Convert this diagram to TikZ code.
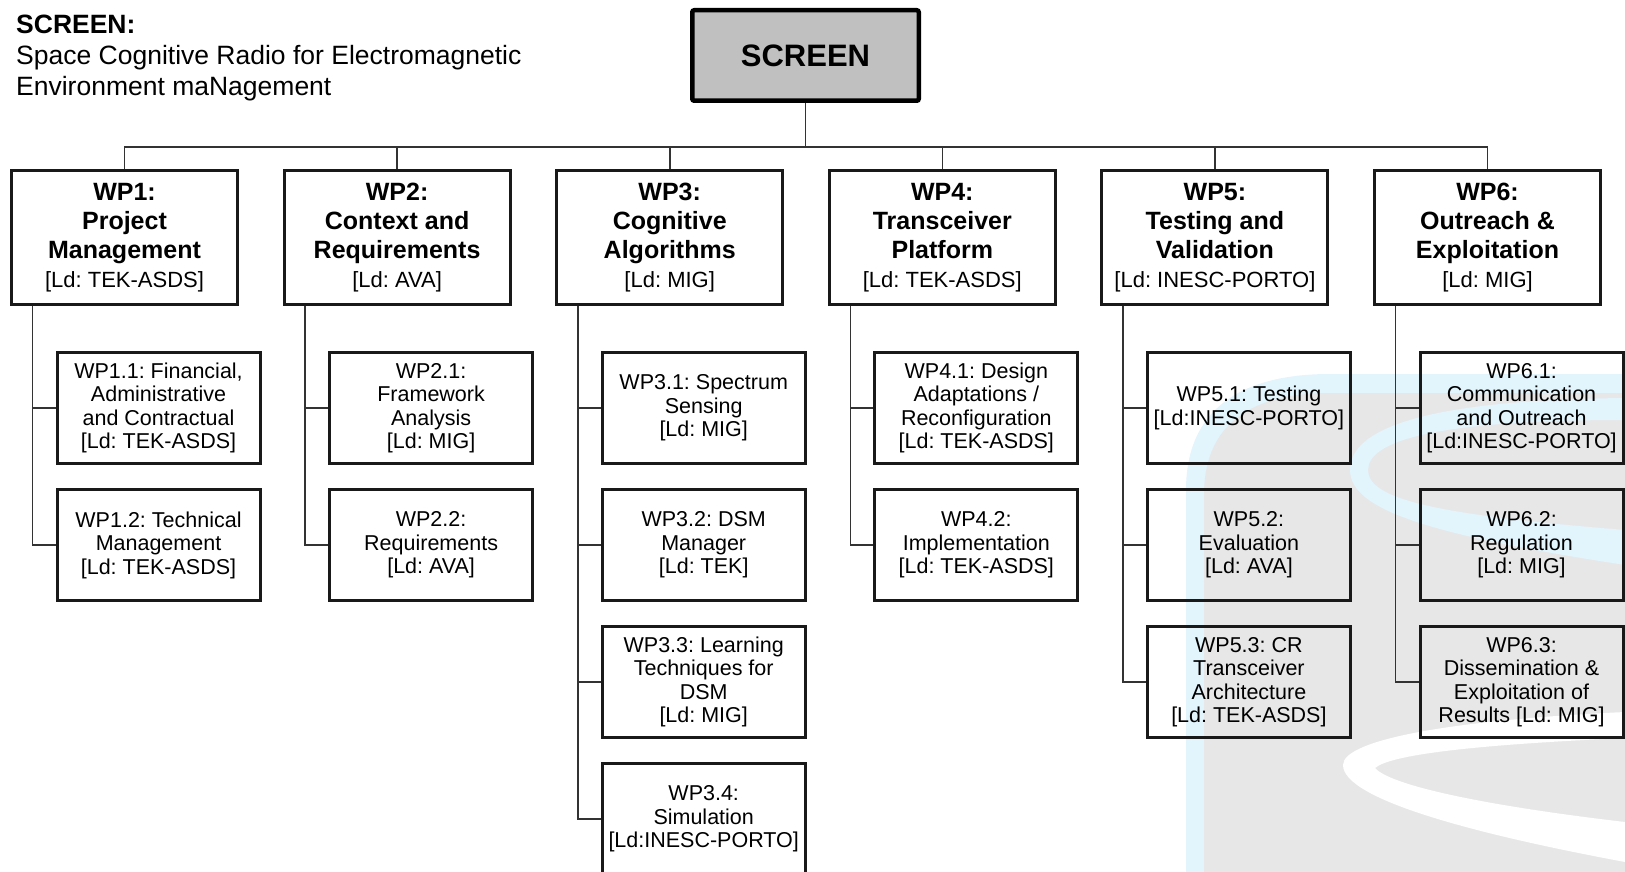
\documentclass[tikz,border=0pt]{standalone}
\usepackage{fontspec}
\setmainfont{Liberation Sans}
\usepackage{xcolor}
\usepackage{tikz}
\usetikzlibrary{calc}
\frenchspacing

\definecolor{wmgray}{RGB}{231,231,231}
\definecolor{wmblue}{RGB}{226,244,252}
\definecolor{topgray}{RGB}{192,192,192}

\newcommand{\leadby}[1]{{\mdseries\fontsize{22}{29}\selectfont[Ld: #1]}}

\begin{document}
\begin{tikzpicture}[x=1pt,y=-1pt,
    wpbox/.style={draw=black!90, line width=3pt, minimum width=226pt, minimum height=134pt,
      inner sep=0pt, align=center, font=\fontsize{25}{29}\selectfont\bfseries},
    taskbox/.style={draw=black!90, line width=3pt, minimum width=203pt, minimum height=111pt,
      inner sep=0pt, align=center, font=\fontsize{21.5}{23.5}\selectfont},
    link/.style={line width=1.6pt, draw=black!80}]
    \useasboundingbox (0,0) rectangle (1625,872);
    % Watermark
    \fill[wmblue] (1186,872) -- (1186,490) .. controls (1186,410) and (1240,374) .. (1330,374) -- (1625,374) -- (1625,872) -- cycle;
    \fill[wmgray] (1204,872) -- (1204,495) .. controls (1204,425) and (1250,393) .. (1330,393) -- (1625,393) -- (1625,872) -- cycle;
    \fill[wmblue, even odd rule] (1625,398) .. controls (1420,400) and (1350,430) .. (1350,470) .. controls (1350,510) and (1430,535) .. (1625,565) -- cycle
      (1625,420) .. controls (1440,420) and (1368,440) .. (1368,470) .. controls (1368,500) and (1440,515) .. (1625,530) -- cycle;
    \fill[white, even odd rule] (1625,712) .. controls (1450,720) and (1343,740) .. (1343,765) .. controls (1343,800) and (1480,835) .. (1625,862) -- cycle
      (1625,738) .. controls (1470,745) and (1390,755) .. (1375,768) .. controls (1390,785) and (1480,805) .. (1625,822) -- cycle;
    % Title
    \node[anchor=north west, inner sep=0pt, align=left, font=\fontsize{26.5}{31}\selectfont] (title) at (16,15)
      {\textbf{SCREEN:}\\Space Cognitive Radio for Electromagnetic\\Environment maNagement};
    % Project box
    \node[draw=black, line width=4.5pt, fill=topgray, rounded corners=2pt, minimum width=226.5pt, minimum height=90.5pt,
      font=\fontsize{31}{36}\selectfont\bfseries] (screen) at (805.5,55.5) {SCREEN};
    % Work packages
    \node[wpbox] (wp1) at (124.5,237.5) {WP1:\\Project\\Management\\\leadby{TEK-ASDS}};
    \node[wpbox] (wp2) at (397.1,237.5) {WP2:\\Context and\\Requirements\\\leadby{AVA}};
    \node[wpbox] (wp3) at (669.7,237.5) {WP3:\\Cognitive\\Algorithms\\\leadby{MIG}};
    \node[wpbox] (wp4) at (942.3,237.5) {WP4:\\Transceiver\\Platform\\\leadby{TEK-ASDS}};
    \node[wpbox] (wp5) at (1214.9,237.5) {WP5:\\Testing and\\Validation\\\leadby{INESC-PORTO}};
    \node[wpbox] (wp6) at (1487.5,237.5) {WP6:\\Outreach \&\\Exploitation\\\leadby{MIG}};
    % Tasks
    \node[taskbox] (wp11) at (158.5,408) {WP1.1: Financial,\\Administrative\\and Contractual\\{}[Ld: TEK-ASDS]};
    \node[taskbox] (wp12) at (158.5,545) {WP1.2: Technical\\Management\\{}[Ld: TEK-ASDS]};
    \node[taskbox] (wp21) at (431.1,408) {WP2.1:\\Framework\\Analysis\\{}[Ld: MIG]};
    \node[taskbox] (wp22) at (431.1,545) {WP2.2:\\Requirements\\{}[Ld: AVA]};
    \node[taskbox] (wp31) at (703.7,408) {WP3.1: Spectrum\\Sensing\\{}[Ld: MIG]};
    \node[taskbox] (wp32) at (703.7,545) {WP3.2: DSM\\Manager\\{}[Ld: TEK]};
    \node[taskbox] (wp33) at (703.7,682) {WP3.3: Learning\\Techniques for\\DSM\\{}[Ld: MIG]};
    \node[taskbox] (wp34) at (703.7,819) {WP3.4:\\Simulation\\{}[Ld:INESC-PORTO]};
    \node[taskbox] (wp41) at (976.3,408) {WP4.1: Design\\Adaptations /\\Reconfiguration\\{}[Ld: TEK-ASDS]};
    \node[taskbox] (wp42) at (976.3,545) {WP4.2:\\Implementation\\{}[Ld: TEK-ASDS]};
    \node[taskbox] (wp51) at (1248.9,408) {WP5.1: Testing\\{}[Ld:INESC-PORTO]};
    \node[taskbox] (wp52) at (1248.9,545) {WP5.2:\\Evaluation\\{}[Ld: AVA]};
    \node[taskbox] (wp53) at (1248.9,682) {WP5.3: CR\\Transceiver\\Architecture\\{}[Ld: TEK-ASDS]};
    \node[taskbox] (wp61) at (1521.5,408) {WP6.1:\\Communication\\and Outreach\\{}[Ld:INESC-PORTO]};
    \node[taskbox] (wp62) at (1521.5,545) {WP6.2:\\Regulation\\{}[Ld: MIG]};
    \node[taskbox] (wp63) at (1521.5,682) {WP6.3:\\Dissemination \&\\Exploitation of\\Results [Ld: MIG]};
    % Bus from project to work packages
    \coordinate (bus) at (805.5,147);
    \draw[link] (screen.south) -- (bus);
    \draw[link] (wp1.north) |- (bus) -| (wp6.north);
    \foreach \n in {wp2,wp3,wp4,wp5}
      \draw[link] (\n.north) -- (\n.north |- bus);
    % Work packages to tasks
    \draw[link] ([xshift=22.5pt]wp1.south west) |- (wp11.west) ([xshift=22.5pt]wp1.south west) |- (wp12.west);
    \draw[link] ([xshift=22.5pt]wp2.south west) |- (wp21.west) ([xshift=22.5pt]wp2.south west) |- (wp22.west);
    \draw[link] ([xshift=22.5pt]wp3.south west) |- (wp31.west) ([xshift=22.5pt]wp3.south west) |- (wp32.west)
      ([xshift=22.5pt]wp3.south west) |- (wp33.west) ([xshift=22.5pt]wp3.south west) |- (wp34.west);
    \draw[link] ([xshift=22.5pt]wp4.south west) |- (wp41.west) ([xshift=22.5pt]wp4.south west) |- (wp42.west);
    \draw[link] ([xshift=22.5pt]wp5.south west) |- (wp51.west) ([xshift=22.5pt]wp5.south west) |- (wp52.west)
      ([xshift=22.5pt]wp5.south west) |- (wp53.west);
    \draw[link] ([xshift=22.5pt]wp6.south west) |- (wp61.west) ([xshift=22.5pt]wp6.south west) |- (wp62.west)
      ([xshift=22.5pt]wp6.south west) |- (wp63.west);
  \end{tikzpicture}
\end{document}
